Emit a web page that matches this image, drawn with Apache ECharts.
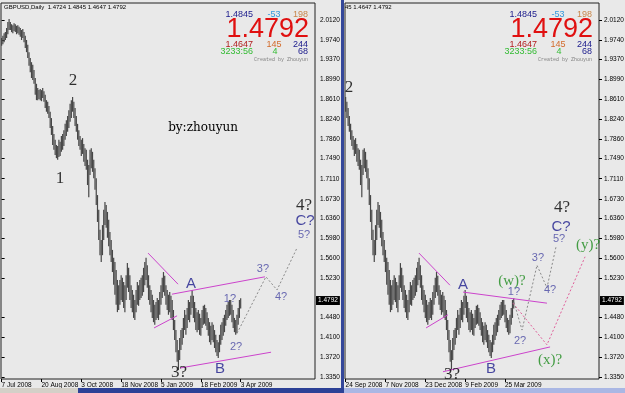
<!DOCTYPE html>
<html>
<head>
<meta charset="utf-8">
<script src="https://cdn.jsdelivr.net/npm/echarts@6.0.0/dist/echarts.min.js"></script>
<style>
  html, body { margin: 0; padding: 0; background: #e9e9e9; }
  #chart { width: 625px; height: 393px; }
</style>
</head>
<body>
<div id="chart"></div>
<script>
// GBPUSD daily bars, index 0 = 7 Jul 2008 ... 192 = 3 Apr 2009
const highs = [
  1.978, 1.982, 1.987, 1.989, 1.997, 2.008, 2.014, 2.008, 2.004, 2.002,
  2.006, 2.004, 2.001, 2.002, 1.999, 1.997, 1.993, 1.995, 1.989, 1.982,
  1.974, 1.965, 1.951, 1.940, 1.932, 1.927, 1.917, 1.902, 1.891, 1.883,
  1.879, 1.881, 1.879, 1.883, 1.877, 1.870, 1.860, 1.857, 1.849, 1.838,
  1.826, 1.811, 1.796, 1.785, 1.775, 1.773, 1.785, 1.781, 1.792, 1.796,
  1.803, 1.815, 1.822, 1.830, 1.841, 1.853, 1.860, 1.866, 1.857, 1.845,
  1.830, 1.815, 1.803, 1.792, 1.785, 1.788, 1.777, 1.769, 1.766, 1.747,
  1.737, 1.766, 1.769, 1.762, 1.747, 1.731, 1.712, 1.680, 1.652, 1.614,
  1.595, 1.623, 1.652, 1.667, 1.661, 1.648, 1.633, 1.610, 1.595, 1.576,
  1.561, 1.553, 1.538, 1.519, 1.509, 1.519, 1.528, 1.523, 1.515, 1.509,
  1.528, 1.551, 1.542, 1.528, 1.509, 1.500, 1.491, 1.481, 1.500, 1.515,
  1.509, 1.519, 1.523, 1.528, 1.542, 1.553, 1.561, 1.547, 1.528, 1.509,
  1.500, 1.491, 1.481, 1.472, 1.477, 1.485, 1.481, 1.496, 1.509, 1.523,
  1.534, 1.527, 1.509, 1.500, 1.491, 1.496, 1.489, 1.481, 1.462, 1.443,
  1.424, 1.405, 1.386, 1.409, 1.424, 1.428, 1.447, 1.462, 1.453, 1.466,
  1.481, 1.477, 1.489, 1.500, 1.489, 1.477, 1.466, 1.458, 1.462, 1.455,
  1.447, 1.462, 1.470, 1.472, 1.466, 1.458, 1.447, 1.439, 1.432, 1.439,
  1.434, 1.424, 1.415, 1.405, 1.401, 1.415, 1.434, 1.439, 1.447, 1.453,
  1.462, 1.472, 1.477, 1.481, 1.481, 1.472, 1.462, 1.447, 1.443, 1.453,
  1.466, 1.481, 1.4845
];
const lows = [
  1.963, 1.966, 1.970, 1.974, 1.978, 1.985, 1.993, 1.993, 1.989, 1.987,
  1.991, 1.989, 1.985, 1.987, 1.984, 1.980, 1.974, 1.978, 1.970, 1.959,
  1.951, 1.940, 1.925, 1.913, 1.902, 1.898, 1.891, 1.870, 1.860, 1.860,
  1.862, 1.860, 1.858, 1.864, 1.857, 1.845, 1.838, 1.834, 1.826, 1.807,
  1.794, 1.775, 1.766, 1.756, 1.750, 1.747, 1.752, 1.754, 1.762, 1.766,
  1.773, 1.785, 1.792, 1.800, 1.807, 1.819, 1.826, 1.838, 1.826, 1.811,
  1.800, 1.785, 1.773, 1.766, 1.754, 1.758, 1.743, 1.735, 1.728, 1.699,
  1.676, 1.718, 1.731, 1.724, 1.712, 1.690, 1.661, 1.629, 1.595, 1.566,
  1.553, 1.566, 1.595, 1.623, 1.618, 1.599, 1.583, 1.566, 1.553, 1.534,
  1.510, 1.491, 1.472, 1.458, 1.462, 1.472, 1.481, 1.477, 1.466, 1.458,
  1.481, 1.504, 1.496, 1.481, 1.466, 1.458, 1.447, 1.443, 1.458, 1.472,
  1.470, 1.481, 1.485, 1.489, 1.496, 1.509, 1.519, 1.504, 1.481, 1.472,
  1.458, 1.447, 1.439, 1.434, 1.443, 1.447, 1.443, 1.453, 1.472, 1.485,
  1.496, 1.489, 1.472, 1.462, 1.453, 1.458, 1.447, 1.443, 1.424, 1.405,
  1.382, 1.364, 1.348, 1.367, 1.386, 1.396, 1.409, 1.424, 1.415, 1.428,
  1.443, 1.439, 1.453, 1.466, 1.447, 1.439, 1.424, 1.420, 1.424, 1.415,
  1.413, 1.428, 1.434, 1.436, 1.432, 1.424, 1.413, 1.401, 1.396, 1.405,
  1.401, 1.390, 1.382, 1.375, 1.371, 1.382, 1.396, 1.405, 1.413, 1.420,
  1.432, 1.443, 1.447, 1.451, 1.453, 1.439, 1.428, 1.420, 1.415, 1.418,
  1.434, 1.447, 1.4647
];
const lastClose = 1.4792;

const priceTicks = [2.0120, 1.9740, 1.9370, 1.8990, 1.8610, 1.8240, 1.7860, 1.7490, 1.7110,
  1.6730, 1.6360, 1.5980, 1.5600, 1.5230, 1.4480, 1.4100, 1.3720, 1.3350];

const leftDateTicks = [0, 32, 64, 96, 128, 160, 192];
const leftDateLabels = ['7 Jul 2008', '20 Aug 2008', '3 Oct 2008', '18 Nov 2008', '5 Jan 2009', '18 Feb 2009', '3 Apr 2009'];
const rightDateTicks = [57, 89, 121, 153, 185];
const rightDateLabels = ['24 Sep 2008', '7 Nov 2008', '23 Dec 2008', '9 Feb 2009', '25 Mar 2009'];

// wave labels: [text, bar index, price, kind]
const leftWaveLabels = [
  ['2', 57.3, 1.898, 'wave'], ['1', 46.9, 1.712, 'wave'], ['4?', 242.9, 1.661, 'wave'],
  ['C?', 243.7, 1.631, 'abc'], ['5?', 242.9, 1.604, 'minor'], ['3?', 209.9, 1.540, 'minor'],
  ['4?', 224.4, 1.487, 'minor'], ['1?', 183.4, 1.483, 'minor'], ['2?', 188.3, 1.392, 'minor'],
  ['A', 152.1, 1.511, 'abc'], ['B', 175.4, 1.350, 'abc'], ['3?', 142.5, 1.343, 'wave']
];
const rightWaveLabels = [
  ['2', 59.7, 1.883, 'wave'], ['A', 151.3, 1.509, 'abc'], ['(w)?', 190.6, 1.517, 'wxy'],
  ['1?', 192.2, 1.496, 'minor'], ['4?', 221.2, 1.500, 'minor'], ['2?', 197.1, 1.403, 'minor'],
  ['B', 173.8, 1.350, 'abc'], ['3?', 142.4, 1.339, 'wave'], ['(x)?', 221.2, 1.367, 'wxy'],
  ['3?', 211.5, 1.561, 'minor'], ['5?', 228.4, 1.596, 'minor'], ['C?', 230.0, 1.619, 'abc'],
  ['4?', 230.8, 1.657, 'wave'], ['(y)?', 251.7, 1.585, 'wxy']
];

// drawn lines: [[bar, price], ...]
const leftTrendLines = [
  [[117.6, 1.570], [141.7, 1.511]], [[122.4, 1.428], [140.9, 1.451]],
  [[136.8, 1.492], [211.5, 1.525]], [[143.3, 1.352], [216.4, 1.382]]
];
const leftGrayPath = [[189.1, 1.418], [212.3, 1.525], [221.2, 1.500], [237.3, 1.580]];
const rightTrendLines = [
  [[115.9, 1.570], [140.8, 1.509]], [[121.6, 1.428], [139.2, 1.453]],
  [[151.3, 1.496], [218.7, 1.475]], [[135.2, 1.345], [221.2, 1.392]]
];
const rightPinkPath = [[191.4, 1.475], [218.7, 1.396], [249.3, 1.563]];
const rightGrayPath = [[192.2, 1.477], [198.7, 1.424], [210.7, 1.547], [218.7, 1.504], [226.0, 1.582]];

const labelStyles = {
  wave: { color: '#000', fontSize: 17, fontFamily: 'Liberation Serif' },
  abc: { color: '#1c1c8c', fontSize: 15, fontFamily: 'Liberation Sans' },
  minor: { color: '#4747a3', fontSize: 11, fontFamily: 'Liberation Sans' },
  wxy: { color: '#1a8a1a', fontSize: 15, fontFamily: 'Liberation Serif' }
};

const chart = echarts.init(document.getElementById('chart'));
const bars = highs.map((h, i) => [i, h, lows[i]]);

// one OHLC bar = a thin high-low stroke
function renderBar(params, api) {
  const top = api.coord([api.value(0), api.value(1)]);
  const bottom = api.coord([api.value(0), api.value(2)]);
  return {
    type: 'rect',
    shape: { x: top[0] - 0.6, y: top[1], width: 1.2, height: bottom[1] - top[1] },
    style: { fill: '#474747' }
  };
}

function xAxisFor(gridIndex, min, max, ticks, labels) {
  return {
    type: 'value', gridIndex, min, max,
    axisLine: { show: false }, splitLine: { show: false },
    axisTick: { show: true, customValues: ticks, length: 3, lineStyle: { color: '#000' } },
    axisLabel: {
      customValues: ticks, formatter: v => labels[ticks.indexOf(v)],
      align: 'left', fontSize: 6.5, color: '#000', margin: 3, fontFamily: 'Liberation Sans'
    }
  };
}

function yAxisFor(gridIndex) {
  return {
    type: 'value', gridIndex, position: 'right', min: 1.3312, max: 2.0442,
    axisLine: { show: false }, splitLine: { show: false },
    axisTick: { show: true, customValues: priceTicks, length: 3, lineStyle: { color: '#000' } },
    axisLabel: {
      customValues: priceTicks, formatter: v => v.toFixed(4),
      fontSize: 6.5, color: '#000', margin: 5, fontFamily: 'Liberation Sans'
    }
  };
}

function panelSeries(idx, waveLabels, lines) {
  const out = [{
    type: 'custom', xAxisIndex: idx, yAxisIndex: idx, clip: true,
    renderItem: renderBar, data: bars, z: 2
  }, {
    type: 'scatter', xAxisIndex: idx, yAxisIndex: idx, symbolSize: 1, z: 5,
    itemStyle: { color: 'transparent' },
    data: waveLabels.map(w => ({
      value: [w[1], w[2]],
      label: Object.assign({ show: true, position: 'inside', formatter: w[0] }, labelStyles[w[3]])
    })),
    markLine: {
      silent: true, symbol: 'none',
      lineStyle: { color: 'rgba(0,0,0,0)', width: 1 },
      label: {
        show: true, position: 'end', distance: 1, formatter: lastClose.toFixed(4),
        backgroundColor: '#000', color: '#fff', padding: [1, 2], fontSize: 6.5, fontFamily: 'Liberation Sans'
      },
      data: [{ yAxis: lastClose }]
    }
  }];
  lines.forEach(l => out.push({
    type: 'line', xAxisIndex: idx, yAxisIndex: idx, data: l.pts, symbol: 'none', z: 4,
    lineStyle: { color: l.color, width: 1, type: l.dash ? [2, 2] : 'solid' }
  }));
  return out;
}

const leftLines = leftTrendLines.map(pts => ({ pts, color: '#cc44cc' }))
  .concat([{ pts: leftGrayPath, color: '#8a8a8a', dash: true }]);
const rightLines = rightTrendLines.map(pts => ({ pts, color: '#cc44cc' }))
  .concat([{ pts: rightPinkPath, color: '#e0609a', dash: true }, { pts: rightGrayPath, color: '#8a8a8a', dash: true }]);

function txt(x, y, text, color, font, align) {
  return { type: 'text', x, y, z: 10, style: { text, fill: color, font, align: align || 'left', verticalAlign: 'middle' } };
}
function infoBlock(dx) {
  const sm = '9px "Liberation Sans"';
  return [
    txt(253 + dx, 15, '1.4845', '#1a1a8c', sm, 'right'),
    txt(274 + dx, 15, '-53', '#3399dd', sm, 'center'),
    txt(308 + dx, 15, '198', '#c8864a', sm, 'right'),
    txt(309 + dx, 30, '1.4792', '#e01010', '27px "Liberation Sans"', 'right'),
    txt(253 + dx, 45, '1.4647', '#b01c1c', sm, 'right'),
    txt(274 + dx, 45, '145', '#d26a2a', sm, 'center'),
    txt(308 + dx, 45, '244', '#1a1a8c', sm, 'right'),
    txt(253 + dx, 52, '3233:56', '#33bb33', sm, 'right'),
    txt(275 + dx, 52, '4', '#33bb33', sm, 'center'),
    txt(308 + dx, 52, '68', '#1a1a8c', sm, 'right'),
    txt(308 + dx, 60, 'Created by Zhouyun', '#808080', '5px "Liberation Mono"', 'right')
  ];
}

const option = {
  animation: false,
  backgroundColor: '#e9e9e9',
  grid: [
    { left: 1, right: 310, top: 3, bottom: 14, show: true, borderColor: '#222', borderWidth: 1, backgroundColor: '#e9e9e9', outerBoundsMode: 'none' },
    { left: 345, right: 26, top: 3, bottom: 14, show: true, borderColor: '#222', borderWidth: 1, backgroundColor: '#e9e9e9', outerBoundsMode: 'none' }
  ],
  xAxis: [
    xAxisFor(0, -0.5, 251.7, leftDateTicks, leftDateLabels),
    xAxisFor(1, 56.5, 260.5, rightDateTicks, rightDateLabels)
  ],
  yAxis: [yAxisFor(0), yAxisFor(1)],
  series: panelSeries(0, leftWaveLabels, leftLines).concat(panelSeries(1, rightWaveLabels, rightLines)),
  graphic: [
    txt(4, 7, 'GBPUSD,Daily  1.4724 1.4845 1.4647 1.4792', '#000', '6px "Liberation Sans"'),
    txt(345, 7, '45 1.4647 1.4792', '#000', '6px "Liberation Sans"'),
    txt(203, 128, 'by:zhouyun', '#000', '12px "DejaVu Serif"', 'center'),
    { type: 'rect', z: 9, shape: { x: 341, y: 0, width: 3, height: 388 }, style: { fill: '#34479a' } },
    { type: 'rect', z: 9, shape: { x: 0, y: 388, width: 78, height: 5 }, style: { fill: '#d4d0c8' } },
    { type: 'rect', z: 9, shape: { x: 78, y: 388, width: 266, height: 5 }, style: { fill: '#2c4196' } },
    { type: 'rect', z: 9, shape: { x: 344, y: 388, width: 281, height: 5 }, style: { fill: '#aab7e4' } }
  ].concat(infoBlock(0), infoBlock(284))
};

chart.setOption(option);
</script>
</body>
</html>
